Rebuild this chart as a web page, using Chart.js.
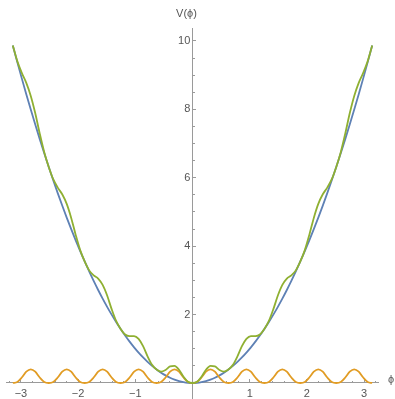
<!DOCTYPE html>
<html><head><meta charset="utf-8">
<script src="https://cdn.jsdelivr.net/npm/chart.js@4"></script>
<style>html,body{margin:0;padding:0;background:#fff}</style>
</head><body>
<canvas id="c" width="395" height="399"></canvas>
<script>
const phi = [-3.1416,-3.0631,-2.9845,-2.9060,-2.8274,-2.7489,-2.6704,-2.5918,-2.5133,-2.4347,-2.3562,-2.2777,-2.1991,-2.1206,-2.0420,-1.9635,-1.8850,-1.8064,-1.7279,-1.6493,-1.5708,-1.4923,-1.4137,-1.3352,-1.2566,-1.1781,-1.0996,-1.0210,-0.9425,-0.8639,-0.7854,-0.7069,-0.6283,-0.5498,-0.4712,-0.3927,-0.3142,-0.2356,-0.1571,-0.0785,0,
0.0785,0.1571,0.2356,0.3142,0.3927,0.4712,0.5498,0.6283,0.7069,0.7854,0.8639,0.9425,1.0210,1.0996,1.1781,1.2566,1.3352,1.4137,1.4923,1.5708,1.6493,1.7279,1.8064,1.8850,1.9635,2.0420,2.1206,2.1991,2.2777,2.3562,2.4347,2.5133,2.5918,2.6704,2.7489,2.8274,2.9060,2.9845,3.0631,3.1416];

const blueV = [9.870,9.382,8.907,8.445,7.994,7.556,7.131,6.718,6.317,5.928,5.552,5.188,4.836,4.497,4.170,3.855,3.553,3.263,2.986,2.720,2.467,2.227,1.999,1.783,1.579,1.388,1.209,1.042,0.888,0.746,0.617,0.500,0.395,0.302,0.222,0.154,0.099,0.056,0.025,0.006,0,
0.006,0.025,0.056,0.099,0.154,0.222,0.302,0.395,0.500,0.617,0.746,0.888,1.042,1.209,1.388,1.579,1.783,1.999,2.227,2.467,2.720,2.986,3.263,3.553,3.855,4.170,4.497,4.836,5.188,5.552,5.928,6.317,6.718,7.131,7.556,7.994,8.445,8.907,9.382,9.870];

const orangeV = [0,0.03,0.16,0.33,0.40,0.33,0.16,0.03, 0,0.03,0.16,0.33,0.40,0.33,0.16,0.03, 0,0.03,0.16,0.33,0.40,0.33,0.16,0.03, 0,0.03,0.16,0.33,0.40,0.33,0.16,0.03, 0,0.03,0.16,0.33,0.40,0.33,0.16,0.03, 0,
0.03,0.16,0.33,0.40,0.33,0.16,0.03,0, 0.03,0.16,0.33,0.40,0.33,0.16,0.03,0, 0.03,0.16,0.33,0.40,0.33,0.16,0.03,0, 0.03,0.16,0.33,0.40,0.33,0.16,0.03,0, 0.03,0.16,0.33,0.40,0.33,0.16,0.03,0];

const greenV = [9.870,9.412,9.067,8.775,8.394,7.886,7.291,6.748,6.317,5.958,5.712,5.518,5.236,4.827,4.330,3.885,3.553,3.293,3.146,3.050,2.867,2.557,2.159,1.813,1.579,1.418,1.369,1.372,1.288,1.076,0.777,0.530,0.395,0.332,0.382,0.484,0.499,0.386,0.185,0.036,0,
0.036,0.185,0.386,0.499,0.484,0.382,0.332,0.395,0.530,0.777,1.076,1.288,1.372,1.369,1.418,1.579,1.813,2.159,2.557,2.867,3.050,3.146,3.293,3.553,3.885,4.330,4.827,5.236,5.518,5.712,5.958,6.317,6.748,7.291,7.886,8.394,8.775,9.067,9.412,9.870];

const xTickLabels = [-3,-2,-1,1,2,3];
const yTickLabels = [2,4,6,8,10];
const xAxisLabel = 'ϕ';
const yAxisLabel = 'V(ϕ)';

const AX = '#9a9a9a';
const TXT = '#555555';
const FONT = {family: '"Liberation Sans", Arial, sans-serif', size: 11};
const XMIN = -3.2605, XMAX = 3.243, YMIN = -0.468, YMAX = 10.38;

const pts = arr => phi.map((x, i) => ({x: x, y: arr[i]}));
const flatH = s => { s.height = 0; s.paddingLeft = 0; s.paddingRight = 0; s.paddingTop = 0; s.paddingBottom = 0; };
const flatW = s => { s.width = 0; s.paddingLeft = 0; s.paddingRight = 0; s.paddingTop = 0; s.paddingBottom = 0; };
const near = (v, list) => list.some(t => Math.abs(v - t) < 1e-6);
const fmt = v => String(Math.round(v)).replace('-', '\u2212');

const axisTitles = {
  id: 'axisTitles',
  afterDraw(chart) {
    const ctx = chart.ctx, xs = chart.scales.x, ys = chart.scales.y;
    ctx.save();
    ctx.fillStyle = TXT;
    ctx.font = '11px "Liberation Sans", Arial, sans-serif';
    ctx.textBaseline = 'middle';
    ctx.textAlign = 'left';
    ctx.fillText(xAxisLabel, xs.right + 10, ys.getPixelForValue(0) - 3);
    ctx.textAlign = 'center';
    ctx.fillText(yAxisLabel, xs.getPixelForValue(0) - 6, ys.top - 14);
    ctx.restore();
  }
};

const common = {borderWidth: 1.8, pointRadius: 0, fill: false, cubicInterpolationMode: 'monotone'};

new Chart(document.getElementById('c'), {
  type: 'line',
  data: {
    datasets: [
      Object.assign({label: 'green', data: pts(greenV), borderColor: '#8FB032', order: 1}, common),
      Object.assign({label: 'orange', data: pts(orangeV), borderColor: '#E19C24', order: 2}, common),
      Object.assign({label: 'blue', data: pts(blueV), borderColor: '#5E81B5', order: 3}, common)
    ]
  },
  options: {
    responsive: false,
    animation: false,
    events: [],
    layout: {padding: {left: 6, right: 17, top: 28, bottom: 0}},
    plugins: {legend: {display: false}, tooltip: {enabled: false}, title: {display: false}},
    scales: {
      x: {
        type: 'linear', axis: 'x', min: XMIN, max: XMAX, position: {y: 0}, afterFit: flatH,
        border: {display: true, color: AX, width: 1},
        grid: {drawOnChartArea: false, drawTicks: true, tickLength: -4, tickColor: AX, color: AX},
        ticks: {stepSize: 1, includeBounds: false, autoSkip: false, maxRotation: 0, minRotation: 0,
          padding: 8, color: TXT, font: FONT,
          callback: v => near(v, xTickLabels) ? fmt(v) : ''}
      },
      x2: {
        type: 'linear', axis: 'x', min: XMIN, max: XMAX, position: {y: 0}, afterFit: flatH,
        border: {display: false},
        grid: {drawOnChartArea: false, drawTicks: true, tickLength: -2, tickColor: AX, color: AX},
        ticks: {stepSize: 0.2, includeBounds: false, autoSkip: false, display: false}
      },
      y: {
        type: 'linear', axis: 'y', min: YMIN, max: YMAX, position: {x: 0}, afterFit: flatW,
        border: {display: true, color: AX, width: 1},
        grid: {drawOnChartArea: false, drawTicks: true, tickLength: -4, tickColor: AX, color: AX},
        ticks: {stepSize: 2, includeBounds: false, autoSkip: false, color: TXT, font: FONT,
          callback: v => near(v, yTickLabels) ? fmt(v) + '\u2009' : ''}
      },
      y2: {
        type: 'linear', axis: 'y', min: YMIN, max: YMAX, position: {x: 0}, afterFit: flatW,
        border: {display: false},
        grid: {drawOnChartArea: false, drawTicks: true, tickLength: -2, tickColor: AX, color: AX},
        ticks: {stepSize: 0.5, includeBounds: false, autoSkip: false, display: false}
      }
    }
  },
  plugins: [axisTitles]
});
</script>
</body></html>
